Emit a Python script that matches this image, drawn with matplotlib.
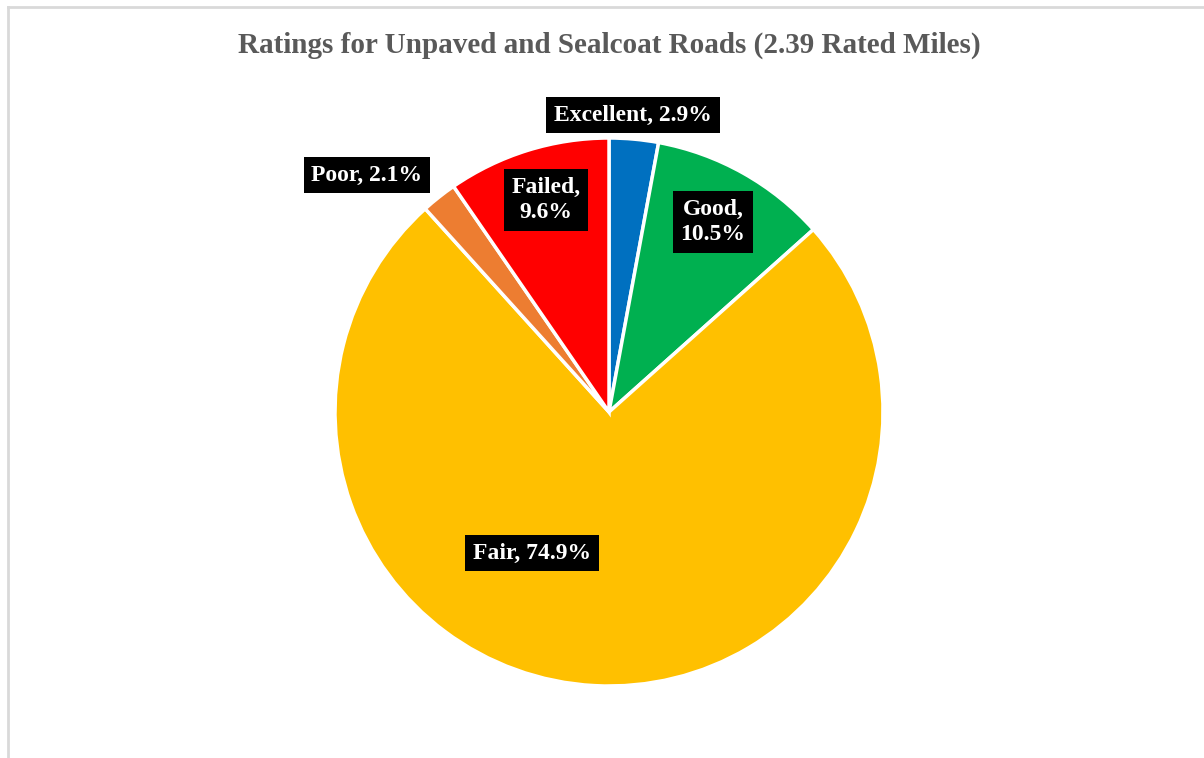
import matplotlib
matplotlib.use("Agg")
import matplotlib.pyplot as plt
from matplotlib.lines import Line2D

# Ratings data (share of rated miles, %)
categories = ["Excellent", "Good", "Fair", "Poor", "Failed"]
shares = [2.9, 10.5, 74.9, 2.1, 9.6]
colors = ["#0070C0", "#00B050", "#FFC000", "#ED7D31", "#FF0000"]
title = "Ratings for Unpaved and Sealcoat Roads (2.39 Rated Miles)"

# Label box centres in figure pixels (x, y from top)
label_pos = [(633, 115), (713, 222), (532, 553), (367, 175), (546, 200)]
label_text = ["{}, {:.1f}%", "{},\n{:.1f}%", "{}, {:.1f}%", "{}, {:.1f}%", "{},\n{:.1f}%"]

W, H = 1204, 758
fig = plt.figure(figsize=(W / 100, H / 100), dpi=100)
ax = fig.add_axes([0, 0, 1, 1])
ax.set_xlim(0, W)
ax.set_ylim(0, H)
ax.axis("off")

serif = ["Liberation Serif", "DejaVu Serif"]

# chart area border (top and left edges visible)
ax.add_line(Line2D([7.5, W], [H - 7, H - 7], color="#D9D9D9", lw=2.0))
ax.add_line(Line2D([7.5, 7.5], [0, H - 7], color="#D9D9D9", lw=2.0))

ax.pie(shares, colors=colors, startangle=90, counterclock=False,
       center=(609, H - 412), radius=274,
       wedgeprops=dict(edgecolor="white", linewidth=2.5))
ax.set_xlim(0, W)
ax.set_ylim(0, H)

ax.text(609, H - 45, title, ha="center", va="center", fontsize=21,
        fontweight="bold", color="#595959", family=serif)

for cat, val, (x, y), fmt in zip(categories, shares, label_pos, label_text):
    ax.text(x, H - y, fmt.format(cat, val), ha="center", va="center",
            fontsize=17, fontweight="bold", color="white", family=serif,
            linespacing=1.3,
            bbox=dict(boxstyle="square,pad=0.33", facecolor="black",
                      edgecolor="none"))

fig.savefig("out.png", dpi=100)
